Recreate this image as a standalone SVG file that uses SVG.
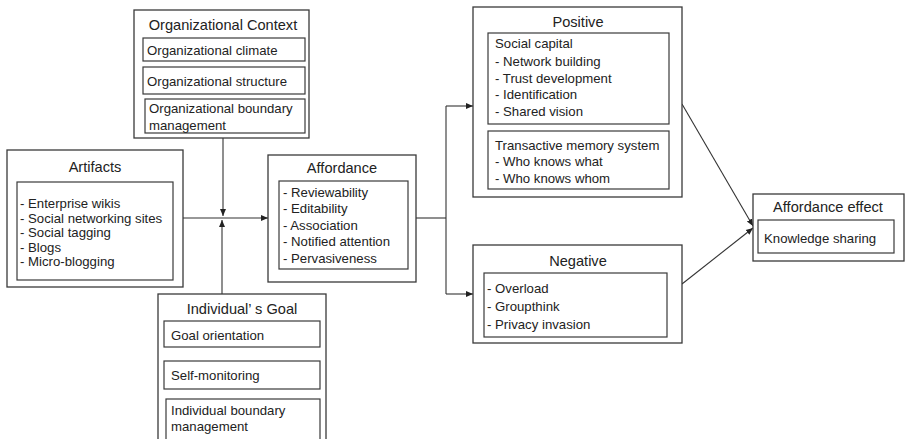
<svg xmlns="http://www.w3.org/2000/svg" width="906" height="439" viewBox="0 0 906 439">
  <style>
    .box { fill: #fff; stroke: #3a3a3a; stroke-width: 1.3; }
    .inner { fill: #fff; stroke: #3a3a3a; stroke-width: 1.2; }
    .title { font-family: "Liberation Sans", Arial, sans-serif; font-size: 14.6px; fill: #222; text-anchor: middle; }
    .item { font-family: "Liberation Sans", Arial, sans-serif; font-size: 13.2px; fill: #222; }
    .wire { fill: none; stroke: #333; stroke-width: 1.1; }
  </style>
  <defs>
    <marker id="arrow" markerUnits="userSpaceOnUse" markerWidth="8" markerHeight="8" viewBox="0 0 8 8" refX="7" refY="4" orient="auto">
      <path d="M0,1 L7,4 L0,7 Z" fill="#222"/>
    </marker>
  </defs>

  <rect width="906" height="439" fill="#fff"/>

  <!-- connectors -->
  <g id="connectors">
    <line class="wire" x1="223" y1="138" x2="223" y2="216" marker-end="url(#arrow)"/>
    <line class="wire" x1="222" y1="294" x2="222" y2="220" marker-end="url(#arrow)"/>
    <line class="wire" x1="183" y1="218" x2="268" y2="218" marker-end="url(#arrow)"/>
    <polyline class="wire" points="416,218 446,218"/>
    <line class="wire" x1="446" y1="106" x2="446" y2="294"/>
    <line class="wire" x1="446" y1="106" x2="473" y2="106" marker-end="url(#arrow)"/>
    <line class="wire" x1="446" y1="294" x2="473" y2="294" marker-end="url(#arrow)"/>
    <line class="wire" x1="682" y1="104" x2="753" y2="226" marker-end="url(#arrow)"/>
    <line class="wire" x1="682" y1="284" x2="753" y2="228" marker-end="url(#arrow)"/>
  </g>

  <!-- Organizational Context -->
  <g id="org-context">
    <rect class="box" x="134" y="10" width="175" height="128"/>
    <text class="title" x="223" y="30">Organizational Context</text>
    <rect class="inner" x="143" y="38" width="162" height="23"/>
    <text class="item" x="147" y="54.5">Organizational climate</text>
    <rect class="inner" x="143" y="67" width="162" height="27"/>
    <text class="item" x="147" y="85.5">Organizational structure</text>
    <rect class="inner" x="145" y="99" width="160" height="34"/>
    <text class="item" x="149" y="113">Organizational boundary</text>
    <text class="item" x="149" y="130">management</text>
  </g>

  <!-- Artifacts -->
  <g id="artifacts">
    <rect class="box" x="7" y="150" width="176" height="137"/>
    <text class="title" x="95" y="172">Artifacts</text>
    <rect class="inner" x="17" y="182" width="156" height="98"/>
    <text class="item" x="20" y="208">- Enterprise wikis</text>
    <text class="item" x="20" y="222.5">- Social networking sites</text>
    <text class="item" x="20" y="237">- Social tagging</text>
    <text class="item" x="20" y="251.5">- Blogs</text>
    <text class="item" x="20" y="266">- Micro-blogging</text>
  </g>

  <!-- Affordance -->
  <g id="affordance">
    <rect class="box" x="268" y="155" width="148" height="127"/>
    <text class="title" x="342" y="173">Affordance</text>
    <rect class="inner" x="279" y="181" width="129" height="88"/>
    <text class="item" x="283" y="196.5">- Reviewability</text>
    <text class="item" x="283" y="213">- Editability</text>
    <text class="item" x="283" y="229.5">- Association</text>
    <text class="item" x="283" y="246">- Notified attention</text>
    <text class="item" x="283" y="262.5">- Pervasiveness</text>
  </g>

  <!-- Individual's Goal -->
  <g id="individual-goal">
    <rect class="box" x="158" y="294" width="168" height="155"/>
    <text class="title" x="242" y="314">Individual’ s Goal</text>
    <rect class="inner" x="164" y="321" width="156" height="26"/>
    <text class="item" x="171" y="339.5">Goal orientation</text>
    <rect class="inner" x="164" y="361" width="156" height="28"/>
    <text class="item" x="171" y="379.5">Self-monitoring</text>
    <rect class="inner" x="166" y="399" width="154" height="45"/>
    <text class="item" x="171" y="414.5">Individual boundary</text>
    <text class="item" x="171" y="430.5">management</text>
  </g>

  <!-- Positive -->
  <g id="positive">
    <rect class="box" x="473" y="7" width="209" height="190"/>
    <text class="title" x="578" y="27">Positive</text>
    <rect class="inner" x="488" y="33" width="181" height="91"/>
    <text class="item" x="495" y="47.5">Social capital</text>
    <text class="item" x="495" y="65.5">- Network building</text>
    <text class="item" x="495" y="82.5">- Trust development</text>
    <text class="item" x="495" y="99">- Identification</text>
    <text class="item" x="495" y="115.5">- Shared vision</text>
    <rect class="inner" x="488" y="131" width="181" height="58"/>
    <text class="item" x="495" y="149.5">Transactive memory system</text>
    <text class="item" x="495" y="166">- Who knows what</text>
    <text class="item" x="495" y="182.5">- Who knows whom</text>
  </g>

  <!-- Negative -->
  <g id="negative">
    <rect class="box" x="473" y="245" width="209" height="98"/>
    <text class="title" x="578" y="266">Negative</text>
    <rect class="inner" x="484" y="273" width="183" height="64"/>
    <text class="item" x="487" y="292.5">- Overload</text>
    <text class="item" x="487" y="310.5">- Groupthink</text>
    <text class="item" x="487" y="328.5">- Privacy invasion</text>
  </g>

  <!-- Affordance effect -->
  <g id="affordance-effect">
    <rect class="box" x="753" y="194" width="151" height="67"/>
    <text class="title" x="828" y="212">Affordance effect</text>
    <rect class="inner" x="758" y="220" width="136" height="33"/>
    <text class="item" x="764" y="242.5">Knowledge sharing</text>
  </g>
</svg>
